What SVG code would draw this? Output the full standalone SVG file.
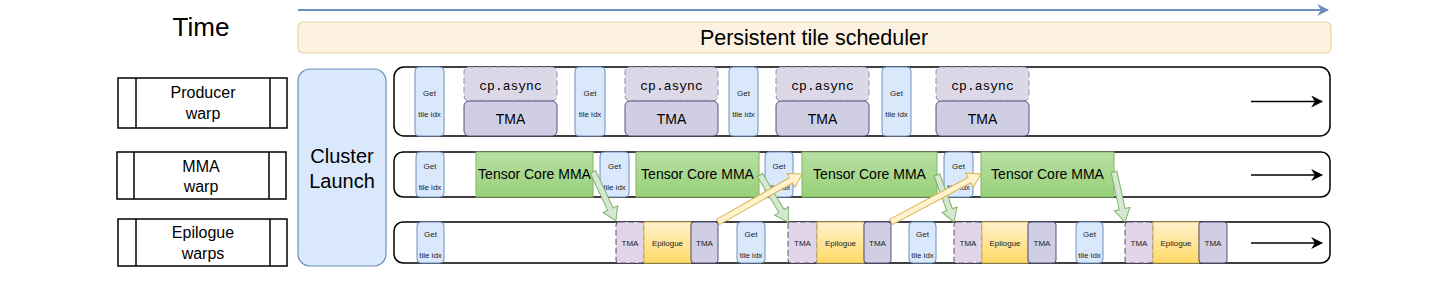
<svg xmlns="http://www.w3.org/2000/svg" width="1446" height="283" viewBox="0 0 1446 283">
<defs>
<linearGradient id="gGreen" x1="0" y1="0" x2="0" y2="1"><stop offset="0" stop-color="#b9e0a5"/><stop offset="1" stop-color="#97d077"/></linearGradient>
<linearGradient id="gYellow" x1="0" y1="0" x2="0" y2="1"><stop offset="0" stop-color="#fff2cc"/><stop offset="1" stop-color="#ffd966"/></linearGradient>
<marker id="blu" viewBox="0 0 10 10" refX="9" refY="5" markerWidth="12" markerHeight="12" markerUnits="userSpaceOnUse" orient="auto"><path d="M0,0 L10,5 L0,10 L3,5 z" fill="#6c8ebf"/></marker>
<marker id="blkArr" viewBox="0 0 10 10" refX="9" refY="5" markerWidth="12" markerHeight="12" markerUnits="userSpaceOnUse" orient="auto"><path d="M0,0 L10,5 L0,10 L3,5 z" fill="#000"/></marker>
</defs>
<style>
text{font-family:"Liberation Sans",Arial,sans-serif;fill:#000;text-anchor:middle}
.lbl{fill:#fff;stroke:#000;stroke-width:1.5}
.row{fill:#fff;stroke:#000;stroke-width:1.5}
.get{fill:#dae8fc;stroke:#6c8ebf;stroke-width:1}
.cpa{fill:#ddd8e8;stroke:#9590a8;stroke-width:1;stroke-dasharray:6 3}
.tma{fill:#d0cee2;stroke:#56517e;stroke-width:1}
.tmad{fill:#e1d5e7;stroke:#56517e;stroke-width:1;stroke-dasharray:6 3}
.tc{fill:url(#gGreen);stroke:#82b366;stroke-width:1}
.epi{fill:url(#gYellow);stroke:#d6b656;stroke-width:1}
.s8{font-size:8px;fill:#222}
.s16{font-size:16px}
.mono{font-family:"Liberation Mono","Courier New",monospace;font-size:13px}
.ga{fill:#d5e8d4;stroke:#82b366;stroke-width:1}
.ya{fill:#fff2cc;stroke:#d6b656;stroke-width:1}
.rarr{stroke:#000;stroke-width:1.5;fill:none}
</style>
<rect width="1446" height="283" fill="#fff"/>

<g id="time"><text x="201" y="36" style="font-size:26px">Time</text></g>
<g id="timeline"><line x1="298" y1="10" x2="1328" y2="10" stroke="#6c8ebf" stroke-width="2" marker-end="url(#blu)"/></g>
<g id="scheduler"><rect x="298" y="22" width="1033" height="31" rx="5" fill="#fdf2e2" stroke="#e8d49e" stroke-width="1.2"/><text x="814" y="45" style="font-size:21.5px">Persistent tile scheduler</text></g>

<g id="producer-label"><rect class="lbl" x="118" y="78" width="169" height="50"/><line x1="136" y1="78" x2="136" y2="128" stroke="#000" stroke-width="1.5"/><line x1="270" y1="78" x2="270" y2="128" stroke="#000" stroke-width="1.5"/><text class="s16" x="203" y="98">Producer</text><text class="s16" x="203" y="119">warp</text></g>
<g id="mma-label"><rect class="lbl" x="117" y="152" width="169" height="47"/><line x1="134" y1="152" x2="134" y2="199" stroke="#000" stroke-width="1.5"/><line x1="269" y1="152" x2="269" y2="199" stroke="#000" stroke-width="1.5"/><text class="s16" x="201" y="172">MMA</text><text class="s16" x="201" y="192">warp</text></g>
<g id="epilogue-label"><rect class="lbl" x="118" y="219" width="169" height="47"/><line x1="136" y1="219" x2="136" y2="266" stroke="#000" stroke-width="1.5"/><line x1="270" y1="219" x2="270" y2="266" stroke="#000" stroke-width="1.5"/><text class="s16" x="203" y="238">Epilogue</text><text class="s16" x="203" y="259">warps</text></g>

<g id="cluster-launch"><rect x="298" y="69" width="88" height="197" rx="12" fill="#dae8fc" stroke="#6c8ebf" stroke-width="1.2"/><text x="342" y="163" style="font-size:20px">Cluster</text><text x="342" y="188" style="font-size:20px">Launch</text></g>

<g id="producer-row">
<rect class="row" x="394" y="67" width="936" height="69" rx="10"/>
<rect class="get" x="415" y="67" width="29" height="69" rx="4"/><text class="s8" x="429.5" y="96">Get</text><text class="s8" x="429.5" y="117">tile idx</text>
<rect class="cpa" x="464" y="67" width="93" height="34" rx="5"/><text class="mono" x="510.5" y="90">cp.async</text>
<rect class="tma" x="464" y="101" width="93" height="35" rx="5"/><text x="510.5" y="124" style="font-size:14px">TMA</text>
<rect class="get" x="575" y="67" width="30" height="69" rx="4"/><text class="s8" x="590" y="96">Get</text><text class="s8" x="590" y="117">tile idx</text>
<rect class="cpa" x="625" y="67" width="93" height="34" rx="5"/><text class="mono" x="671.5" y="90">cp.async</text>
<rect class="tma" x="625" y="101" width="93" height="35" rx="5"/><text x="671.5" y="124" style="font-size:14px">TMA</text>
<rect class="get" x="729" y="67" width="29" height="69" rx="4"/><text class="s8" x="743.5" y="96">Get</text><text class="s8" x="743.5" y="117">tile idx</text>
<rect class="cpa" x="776" y="67" width="93" height="34" rx="5"/><text class="mono" x="822.5" y="90">cp.async</text>
<rect class="tma" x="776" y="101" width="93" height="35" rx="5"/><text x="822.5" y="124" style="font-size:14px">TMA</text>
<rect class="get" x="882" y="67" width="29" height="69" rx="4"/><text class="s8" x="896.5" y="96">Get</text><text class="s8" x="896.5" y="117">tile idx</text>
<rect class="cpa" x="936" y="67" width="93" height="34" rx="5"/><text class="mono" x="982.5" y="90">cp.async</text>
<rect class="tma" x="936" y="101" width="93" height="35" rx="5"/><text x="982.5" y="124" style="font-size:14px">TMA</text>
<line class="rarr" x1="1251" y1="101.5" x2="1322" y2="101.5" marker-end="url(#blkArr)"/>
</g>

<g id="mma-row">
<rect class="row" x="394" y="152" width="936" height="45" rx="9"/>
<rect class="get" x="416" y="152" width="28" height="45" rx="4"/><text class="s8" x="430" y="169">Get</text><text class="s8" x="430" y="190">tile idx</text>
<rect class="tc" x="476" y="152" width="117" height="45"/><text x="534.5" y="179" style="font-size:14px">Tensor Core MMA</text>
<rect class="get" x="600" y="152" width="29" height="45" rx="4"/><text class="s8" x="614.5" y="169">Get</text><text class="s8" x="614.5" y="190">tile idx</text>
<rect class="tc" x="636" y="152" width="123" height="45"/><text x="697.5" y="179" style="font-size:14px">Tensor Core MMA</text>
<rect class="get" x="765" y="152" width="28" height="45" rx="4"/><text class="s8" x="779" y="169">Get</text><text class="s8" x="779" y="190">tile idx</text>
<rect class="tc" x="802" y="152" width="135" height="45"/><text x="869.5" y="179" style="font-size:14px">Tensor Core MMA</text>
<rect class="get" x="944" y="152" width="29" height="45" rx="4"/><text class="s8" x="958.5" y="169">Get</text><text class="s8" x="958.5" y="190">tile idx</text>
<rect class="tc" x="981" y="152" width="133" height="45"/><text x="1047.5" y="179" style="font-size:14px">Tensor Core MMA</text>
<line class="rarr" x1="1251" y1="175" x2="1322" y2="175" marker-end="url(#blkArr)"/>
</g>

<g id="epilogue-row">
<rect class="row" x="394" y="222" width="936" height="41" rx="9"/>
<rect class="get" x="417" y="222" width="27" height="41" rx="4"/><text class="s8" x="430.5" y="237">Get</text><text class="s8" x="430.5" y="258">tile idx</text>
<rect class="tmad" x="616" y="222" width="28" height="41" rx="3"/><text class="s8" x="630" y="246">TMA</text>
<rect class="epi" x="644" y="222" width="47" height="41"/><text class="s8" x="667.5" y="246">Epilogue</text>
<rect class="tma" x="691" y="222" width="27" height="41" rx="3"/><text class="s8" x="704.5" y="246">TMA</text>
<rect class="get" x="737" y="222" width="28" height="41" rx="4"/><text class="s8" x="751" y="237">Get</text><text class="s8" x="751" y="258">tile idx</text>
<rect class="tmad" x="788" y="222" width="29" height="41" rx="3"/><text class="s8" x="802.5" y="246">TMA</text>
<rect class="epi" x="817" y="222" width="47" height="41"/><text class="s8" x="840.5" y="246">Epilogue</text>
<rect class="tma" x="864" y="222" width="27" height="41" rx="3"/><text class="s8" x="877.5" y="246">TMA</text>
<rect class="get" x="909" y="222" width="27" height="41" rx="4"/><text class="s8" x="922.5" y="237">Get</text><text class="s8" x="922.5" y="258">tile idx</text>
<rect class="tmad" x="954" y="222" width="28" height="41" rx="3"/><text class="s8" x="968" y="246">TMA</text>
<rect class="epi" x="982" y="222" width="46" height="41"/><text class="s8" x="1005" y="246">Epilogue</text>
<rect class="tma" x="1028" y="222" width="28" height="41" rx="3"/><text class="s8" x="1042" y="246">TMA</text>
<rect class="get" x="1076" y="222" width="27" height="41" rx="4"/><text class="s8" x="1089.5" y="237">Get</text><text class="s8" x="1089.5" y="258">tile idx</text>
<rect class="tmad" x="1125" y="222" width="28" height="41" rx="3"/><text class="s8" x="1139" y="246">TMA</text>
<rect class="epi" x="1153" y="222" width="46" height="41"/><text class="s8" x="1176" y="246">Epilogue</text>
<rect class="tma" x="1199" y="222" width="28" height="41" rx="3"/><text class="s8" x="1213" y="246">TMA</text>
<line class="rarr" x1="1251" y1="243" x2="1322" y2="243" marker-end="url(#blkArr)"/>
</g>

<g id="connectors">
<polygon class="ga" transform="translate(593,172) rotate(64.9)" points="0,-3 41,-3 41,-8 54,0 41,8 41,3 0,3"/>
<polygon class="ga" transform="translate(760,175) rotate(59.2)" points="0,-3 42,-3 42,-8 55,0 42,8 42,3 0,3"/>
<polygon class="ga" transform="translate(937,175) rotate(70.1)" points="0,-3 37,-3 37,-8 50,0 37,8 37,3 0,3"/>
<polygon class="ga" transform="translate(1114,172) rotate(77.6)" points="0,-3 38,-3 38,-8 51,0 38,8 38,3 0,3"/>
<polygon class="ya" transform="translate(718,222) rotate(-29.7)" points="0,-3 84,-3 84,-8 97,0 84,8 84,3 0,3"/>
<polygon class="ya" transform="translate(891,222) rotate(-28.1)" points="0,-3 89,-3 89,-8 102,0 89,8 89,3 0,3"/>
</g>
</svg>
